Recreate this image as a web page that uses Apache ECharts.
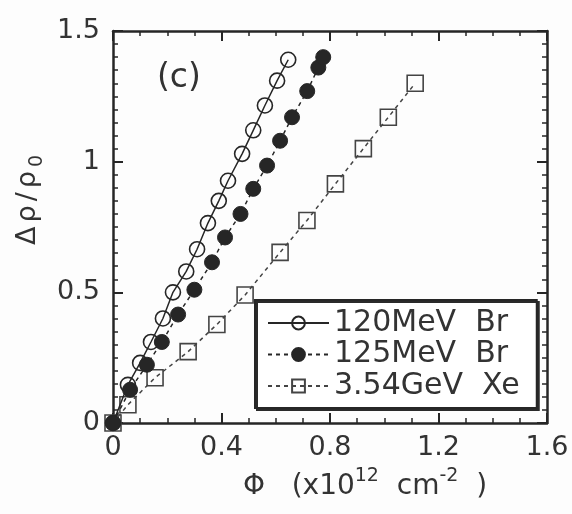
<!DOCTYPE html>
<html>
<head>
<meta charset="utf-8">
<script src="https://cdn.jsdelivr.net/npm/echarts@6/dist/echarts.min.js"></script>
<style>
html,body{margin:0;padding:0;background:#fdfdfd;}
#chart{width:572px;height:514px;}
</style>
</head>
<body>
<div id="chart"></div>
<script>
// ---- data ----
const seriesNames = ['120MeV  Br', '125MeV  Br', '3.54GeV  Xe'];
const phiBr120 = [0, 0.055, 0.10, 0.14, 0.184, 0.221, 0.27, 0.31, 0.35, 0.39, 0.424, 0.476, 0.517, 0.56, 0.605, 0.646];
const rhoBr120 = [0, 0.146, 0.23, 0.31, 0.40, 0.50, 0.58, 0.665, 0.765, 0.85, 0.927, 1.03, 1.12, 1.215, 1.31, 1.39];
const phiBr125 = [0, 0.063, 0.125, 0.18, 0.24, 0.30, 0.365, 0.413, 0.47, 0.517, 0.568, 0.616, 0.66, 0.716, 0.757, 0.775];
const rhoBr125 = [0, 0.127, 0.223, 0.31, 0.415, 0.51, 0.615, 0.71, 0.80, 0.896, 0.985, 1.08, 1.17, 1.27, 1.36, 1.40];
const phiXe = [0, 0.055, 0.155, 0.277, 0.383, 0.487, 0.616, 0.715, 0.82, 0.923, 1.015, 1.114];
const rhoXe = [0, 0.07, 0.173, 0.273, 0.377, 0.49, 0.653, 0.775, 0.915, 1.05, 1.17, 1.30];
const xTickLabels = ['0', '0.4', '0.8', '1.2', '1.6'];
const yTickLabels = ['0', '0.5', '1', '1.5'];
const panelLabel = '(c)';

const pair = (xs, ys) => xs.map((x, i) => [x, ys[i]]);
const INK = '#262626';
const FONT = 'DejaVu Sans';

const chart = echarts.init(document.getElementById('chart'), null, {renderer: 'canvas'});

const xCommon = {
  type: 'value', min: 0, max: 1.6, interval: 0.4,
  axisLine: {show: true, onZero: false, lineStyle: {color: INK, width: 2.5}},
  axisTick: {show: true, inside: true, length: 10, lineStyle: {color: INK, width: 2}},
  minorTick: {show: true, splitNumber: 4, length: 5, lineStyle: {color: INK, width: 1.5}},
  splitLine: {show: false}
};
const yCommon = {
  type: 'value', min: 0, max: 1.5, interval: 0.5,
  axisLine: {show: true, onZero: false, lineStyle: {color: INK, width: 2.5}},
  axisTick: {show: true, inside: true, length: 10, lineStyle: {color: INK, width: 2}},
  minorTick: {show: true, splitNumber: 10, length: 5, lineStyle: {color: INK, width: 1.5}},
  splitLine: {show: false}
};

const option = {
  animation: false,
  backgroundColor: '#fdfdfd',
  grid: {left: 113, top: 31, right: 25, bottom: 91, containLabel: false},
  xAxis: [
    Object.assign({}, xCommon, {
      position: 'bottom',
      axisLabel: {show: true, margin: 11, color: '#333', fontFamily: FONT, fontSize: 27,
        formatter: v => xTickLabels[Math.round(v / 0.4)]},
      name: '{a|Φ   (x10}{s|12}{a|  cm}{s|-2}{a|  )}',
      nameLocation: 'middle',
      nameGap: 44,
      nameTextStyle: {
        padding: [0, 0, 0, 70],
        rich: {
          a: {fontFamily: FONT, fontSize: 28, color: '#333', lineHeight: 34, verticalAlign: 'bottom'},
          s: {fontFamily: FONT, fontSize: 19, color: '#333', lineHeight: 34, verticalAlign: 'top'}
        }
      }
    }),
    Object.assign({}, xCommon, {position: 'top', axisLabel: {show: false}})
  ],
  yAxis: [
    Object.assign({}, yCommon, {
      position: 'left',
      axisLabel: {show: true, margin: 13, color: '#333', fontFamily: FONT, fontSize: 27,
        formatter: v => yTickLabels[Math.round(v / 0.5)]},
      name: '{a|Δ}{a|ρ}{a|/}{a|ρ}{b|0}',
      nameLocation: 'middle',
      nameGap: 50,
      nameRotate: 90,
      nameTextStyle: {
        padding: [0, 0, 0, 54],
        rich: {
          a: {fontFamily: FONT, fontSize: 27, color: '#333', lineHeight: 32, verticalAlign: 'top', padding: [0, 2, 0, 2]},
          b: {fontFamily: FONT, fontSize: 19, color: '#333', lineHeight: 32, verticalAlign: 'bottom', padding: [0, 2, 0, 2]}
        }
      }
    }),
    Object.assign({}, yCommon, {position: 'right', axisLabel: {show: false}})
  ],
  legend: {
    show: true,
    orient: 'vertical',
    left: 255,
    top: 300,
    padding: [8, 17, 7, 12],
    itemWidth: 61,
    itemHeight: 16,
    itemGap: 1.5,
    align: 'left',
    backgroundColor: '#ffffff',
    borderColor: INK,
    borderWidth: 2,
    borderRadius: 0,
    shadowColor: '#2a2a2a',
    shadowBlur: 0,
    shadowOffsetX: 2,
    shadowOffsetY: 2,
    textStyle: {fontFamily: FONT, fontSize: 30, color: '#333', lineHeight: 30},
    data: seriesNames
  },
  graphic: [
    {type: 'text', left: 157, top: 62, style: {text: panelLabel, font: '33px "DejaVu Sans"', fill: '#333'}}
  ],
  series: [
    {
      name: seriesNames[0], type: 'line', data: pair(phiBr120, rhoBr120),
      symbol: 'circle', symbolSize: 15,
      lineStyle: {color: INK, width: 1.5, type: 'solid'},
      itemStyle: {color: 'rgba(255,255,255,0)', borderColor: INK, borderWidth: 1.6},
      z: 3
    },
    {
      name: seriesNames[1], type: 'line', data: pair(phiBr125, rhoBr125),
      symbol: 'circle', symbolSize: 15,
      lineStyle: {color: INK, width: 1.5, type: [4, 4]},
      itemStyle: {color: INK, borderColor: INK, borderWidth: 1},
      z: 4
    },
    {
      name: seriesNames[2], type: 'line', data: pair(phiXe, rhoXe),
      symbol: 'rect', symbolSize: 16,
      lineStyle: {color: '#444', width: 1.5, type: [4, 4]},
      itemStyle: {color: 'rgba(255,255,255,0)', borderColor: '#444', borderWidth: 1.6},
      z: 2
    }
  ]
};
chart.setOption(option);
</script>
</body>
</html>
